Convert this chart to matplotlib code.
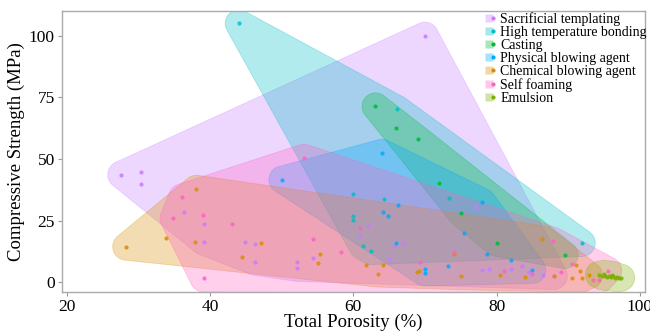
import numpy as np
import matplotlib
matplotlib.use("Agg")
import matplotlib.pyplot as plt
from matplotlib.lines import Line2D
from matplotlib.legend_handler import HandlerTuple


# -----------------------------
# DATA
# -----------------------------

labels = ["Sacrificial templating", "High temperature bonding", "Casting",
          "Physical blowing agent", "Chemical blowing agent", "Self foaming",
          "Emulsion"]
colors = ["#C77CFF", "#00BFC4", "#00BA38", "#00A9FF", "#D88E00", "#FF61C3",
          "#7CAE00"]

sacrificial_x = [27.6, 30.3, 30.3, 36.4, 39.1, 39.1, 44.9, 46.3, 46.3,
                 52.2, 52.2, 54.4, 61.0, 62.0, 65.7, 67.0, 65.0, 70.0, 77.2,
                 78.0, 79.0, 82.0, 83.5, 84.5, 86.5, 88.0]
sacrificial_y = [43.6, 44.6, 39.7, 28.6, 23.7, 16.5, 16.4, 15.6, 8.3,
                 8.3, 5.8, 9.8, 18.7, 22.8, 14.6, 15.7, 9.2, 100.0, 30.5,
                 4.9, 5.3, 5.5, 6.5, 4.0, 3.0, 2.5]

hightemp_x = [44.0, 66.1, 60.0, 60.0, 60.0, 61.3, 62.5, 64.3, 73.4, 91.9]
hightemp_y = [105.0, 70.3, 35.6, 26.8, 25.1, 14.6, 12.6, 33.6, 34.0, 15.9]

casting_x = [63.1, 65.9, 69.0, 72.0, 75.0, 80.0, 89.5]
casting_y = [71.3, 62.7, 58.0, 40.4, 28.2, 16.0, 11.0]

physical_x = [50.1, 64.0, 78.0, 66.2, 64.1, 64.9, 65.9, 75.4, 78.7, 82.0,
              73.2, 70.0, 70.0, 85.0]
physical_y = [41.6, 52.5, 32.6, 31.2, 28.6, 26.8, 16.0, 20.0, 11.3, 8.9,
              6.5, 5.2, 3.9, 5.0]

chemical_x = [28.3, 33.8, 38.1, 37.9, 44.5, 47.1, 55.4, 55.1, 61.8, 64.2,
              63.5, 68.9, 69.2, 74.0, 75.0, 80.5, 84.0, 86.4, 88.0, 91.1,
              91.7, 92.0, 92.9, 90.5]
chemical_y = [14.4, 17.9, 37.9, 16.3, 10.3, 15.7, 11.4, 7.8, 6.8, 7.0,
              3.5, 4.2, 4.6, 11.3, 2.4, 3.0, 2.0, 17.4, 2.5, 6.9,
              4.5, 1.6, 2.8, 1.5]

selffoam_x = [34.9, 36.1, 39.0, 39.1, 43.0, 53.1, 54.4, 58.3, 69.3, 74.0,
              87.9, 81.0, 85.0, 89.0, 94.3, 93.5, 95.6, 90.5, 61.0]
selffoam_y = [25.9, 34.4, 27.4, 1.5, 23.4, 50.5, 17.6, 12.1, 8.3, 12.3,
              16.8, 4.5, 3.5, 4.2, 0.8, 1.0, 4.7, 7.5, 22.0]

emulsion_x = [94.3, 94.7, 95.1, 95.4, 95.7, 96.0, 96.3, 96.5, 96.8, 97.1,
              97.4, 95.0, 96.1]
emulsion_y = [3.0, 2.4, 2.7, 2.0, 2.5, 2.1, 2.4, 1.8, 2.1, 1.6,
              1.8, 3.4, 3.0]

series_x = [sacrificial_x, hightemp_x, casting_x, physical_x, chemical_x,
            selffoam_x, emulsion_x]
series_y = [sacrificial_y, hightemp_y, casting_y, physical_y, chemical_y,
            selffoam_y, emulsion_y]

x_ticks = [20, 40, 60, 80, 100]
y_ticks = [0, 25, 50, 75, 100]


# -----------------------------
# HULL HELPERS
# -----------------------------

def convex_hull(points):
    """Monotone chain convex hull."""
    pts = sorted(set(map(tuple, np.round(points, 4))))
    if len(pts) < 3:
        return np.array(pts)

    def cross(o, a, b):
        return (a[0] - o[0]) * (b[1] - o[1]) - (a[1] - o[1]) * (b[0] - o[0])

    lower = []
    for p in pts:
        while len(lower) >= 2 and cross(lower[-2], lower[-1], p) <= 0:
            lower.pop()
        lower.append(p)
    upper = []
    for p in reversed(pts):
        while len(upper) >= 2 and cross(upper[-2], upper[-1], p) <= 0:
            upper.pop()
        upper.append(p)
    return np.array(lower[:-1] + upper[:-1])


def rounded_hull(ax, xs, ys, radius_px, color):
    """Convex hull grown by a circle, built in pixel space so corners stay round."""
    pts = ax.transData.transform(np.column_stack([xs, ys]))
    ang = np.linspace(0, 2 * np.pi, 60, endpoint=False)
    circ = np.column_stack([np.cos(ang), np.sin(ang)]) * radius_px
    cloud = (pts[:, None, :] + circ[None, :, :]).reshape(-1, 2)
    hull = convex_hull(cloud)
    data = ax.transData.inverted().transform(hull)
    ax.fill(data[:, 0], data[:, 1], facecolor=color, alpha=0.3,
            edgecolor=color, linewidth=0.6, zorder=1, clip_on=True)


# -----------------------------
# PLOT
# -----------------------------

plt.rcParams['font.family'] = ['Liberation Serif', 'DejaVu Serif']

fig = plt.figure(figsize=(6.5, 3.33), dpi=100)
ax = fig.add_axes([0.095, 0.123, 0.897, 0.844])
ax.set_xlim(19.3, 100.7)
ax.set_ylim(-4, 110)

for xs, ys, c in zip(series_x, series_y, colors):
    rounded_hull(ax, xs, ys, 13.5, c)

for xs, ys, c in zip(series_x, series_y, colors):
    ax.scatter(xs, ys, s=9, color=c, alpha=0.85, linewidths=0, zorder=3)

ax.set_xticks(x_ticks)
ax.set_yticks(y_ticks)
ax.tick_params(labelsize=12.5, length=3, color="#999999", pad=2)
for sp in ax.spines.values():
    sp.set_color("#AAAAAA")
    sp.set_linewidth(1.0)

ax.set_xlabel("Total Porosity (%)", fontsize=13.5, labelpad=-1)
ax.set_ylabel("Compressive Strength (MPa)", fontsize=13.5, labelpad=3)

handles = []
for c in colors:
    box = Line2D([], [], marker="s", markersize=6, linestyle="none",
                 markerfacecolor=c, markeredgecolor="none", alpha=0.35)
    dot = Line2D([], [], marker="o", markersize=3, linestyle="none",
                 markerfacecolor=c, markeredgecolor="none")
    handles.append((box, dot))

ax.legend(handles, labels, handler_map={tuple: HandlerTuple(ndivide=None, pad=0)},
          loc="upper right", bbox_to_anchor=(1.018, 1.025), frameon=False,
          fontsize=10, labelspacing=0.0, handlelength=0.6, handletextpad=0.4,
          borderaxespad=0.2)

fig.savefig("out.png", dpi=100)
